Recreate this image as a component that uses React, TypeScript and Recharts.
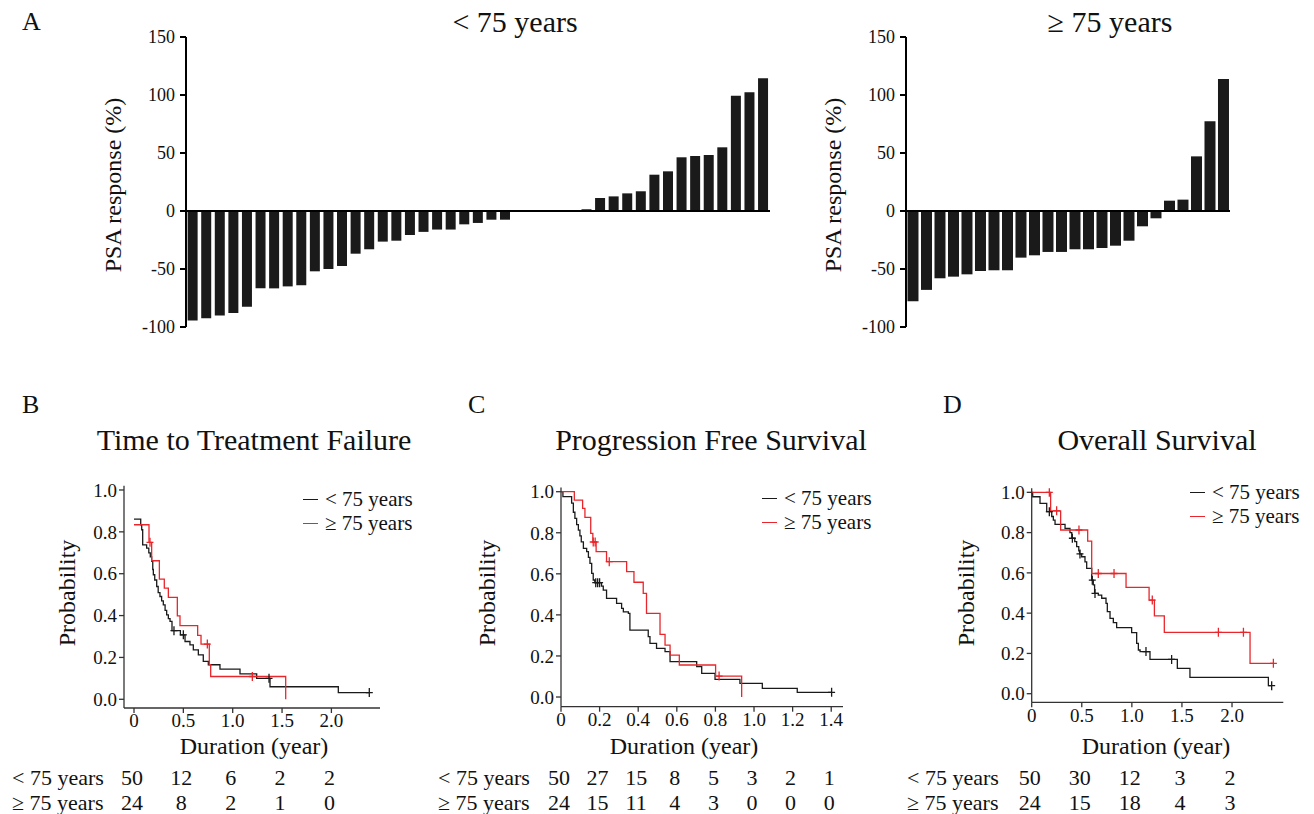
import React from 'react';
import { BarChart, Bar, ComposedChart, Line, XAxis, YAxis, ReferenceLine } from 'recharts';

const FONT = '"Liberation Serif", "Times New Roman", Times, serif';
const BLACK = '#1a1a1a';
const RED = '#e8262b';

// A: PSA response (%) per patient, sorted
const psaUnder75 = [
  -94.5, -92.5, -90, -88, -82.5, -66.7, -66.7, -65, -64, -52, -50, -47.4, -36.8, -33, -26.4,
  -25.6, -20.7, -18, -16, -16, -11.5, -10.3, -7.5, -7.5, 0, 0, 0, 0, 0, 1.5, 11.2, 12.6, 15.2,
  17, 31.3, 34.2, 46.3, 47.4, 48.3, 54.9, 99.4, 102.3, 114.4,
];
const psaOver75 = [
  -77.9, -68, -58, -56.6, -54.6, -51.7, -51.1, -51.1, -40.2, -38.2, -35.3, -35.3, -33, -33,
  -31.9, -29.9, -25.6, -13.2, -6.3, 8.9, 9.8, 47.1, 77.3, 113.8,
];
const psaTicks = [-100, -50, 0, 50, 100, 150];

// B: time to treatment failure, [year, probability after step]
const ttfUnder75 = [
  [0, 0.861], [0.068, 0.834], [0.078, 0.81], [0.088, 0.738], [0.128, 0.722], [0.15, 0.7],
  [0.165, 0.68], [0.179, 0.659], [0.19, 0.62], [0.196, 0.595], [0.21, 0.57], [0.23, 0.539],
  [0.245, 0.51], [0.263, 0.491], [0.28, 0.47], [0.297, 0.451], [0.315, 0.425], [0.331, 0.403],
  [0.348, 0.385], [0.365, 0.372], [0.385, 0.328], [0.47, 0.308], [0.517, 0.276], [0.567, 0.26],
  [0.601, 0.236], [0.652, 0.212], [0.702, 0.181], [0.753, 0.165], [0.871, 0.144], [1.074, 0.121],
  [1.243, 0.1], [1.378, 0.06], [2.07, 0.032], [2.384, 0.032],
];
const ttfUnder75Censored = [0.405, 0.5, 1.368, 2.384];
const ttfOver75 = [
  [0, 0.834], [0.152, 0.75], [0.179, 0.662], [0.257, 0.574], [0.307, 0.531], [0.348, 0.487],
  [0.439, 0.399], [0.466, 0.352], [0.645, 0.305], [0.679, 0.264], [0.763, 0.165], [0.777, 0.109],
  [1.537, 0],
];
const ttfOver75Censored = [0.162, 0.743, 1.199];

// C: progression free survival
const pfsUnder75 = [
  [0, 1], [0.01, 0.976], [0.055, 0.944], [0.064, 0.9], [0.072, 0.87], [0.081, 0.84], [0.09, 0.813],
  [0.098, 0.785], [0.105, 0.756], [0.116, 0.724], [0.133, 0.708], [0.142, 0.68], [0.15, 0.651],
  [0.159, 0.602], [0.167, 0.57], [0.175, 0.557], [0.21, 0.54], [0.219, 0.521], [0.236, 0.48],
  [0.288, 0.456], [0.314, 0.432], [0.323, 0.415], [0.349, 0.407], [0.357, 0.326], [0.452, 0.294],
  [0.461, 0.261], [0.495, 0.237], [0.539, 0.221], [0.565, 0.172], [0.703, 0.148], [0.729, 0.115],
  [0.798, 0.086], [0.927, 0.066], [1.043, 0.042], [1.224, 0.023], [1.402, 0.023],
];
const pfsUnder75Censored = [0.18, 0.19, 0.2, 1.402];
const pfsOver75 = [
  [0, 1], [0.069, 0.959], [0.112, 0.919], [0.124, 0.875], [0.154, 0.797], [0.165, 0.755],
  [0.182, 0.708], [0.236, 0.659], [0.34, 0.611], [0.378, 0.559], [0.426, 0.505], [0.443, 0.407],
  [0.513, 0.305], [0.539, 0.253], [0.565, 0.204], [0.613, 0.156], [0.801, 0.102], [0.936, 0],
];
const pfsOver75Censored = [0.167, 0.177, 0.25, 0.819];

// D: overall survival
const osUnder75 = [
  [0, 1], [0.01, 0.978], [0.083, 0.945], [0.15, 0.904], [0.2, 0.88], [0.216, 0.862], [0.233, 0.841],
  [0.333, 0.821], [0.382, 0.8], [0.4, 0.772], [0.43, 0.755], [0.449, 0.73], [0.47, 0.71],
  [0.478, 0.694], [0.499, 0.68], [0.532, 0.655], [0.549, 0.622], [0.599, 0.564], [0.615, 0.54],
  [0.628, 0.498], [0.665, 0.49], [0.699, 0.474], [0.742, 0.449], [0.755, 0.408], [0.782, 0.374],
  [0.815, 0.353], [0.848, 0.328], [0.998, 0.303], [1.048, 0.25], [1.065, 0.217], [1.082, 0.209],
  [1.181, 0.17], [1.454, 0.126], [1.58, 0.081], [2.363, 0.04], [2.396, 0.04],
];
const osUnder75Censored = [0.176, 0.406, 0.482, 0.605, 0.632, 1.141, 1.397, 2.396];
const osOver75 = [
  [0, 1], [0.189, 0.908], [0.289, 0.813], [0.559, 0.758], [0.599, 0.597], [0.942, 0.528],
  [1.172, 0.465], [1.225, 0.386], [1.324, 0.305], [2.18, 0.151], [2.413, 0.151],
];
const osOver75Censored = [0.176, 0.249, 0.472, 0.665, 0.822, 1.204, 1.864, 2.114, 2.413];

const groupLabels = ['< 75 years', '≥ 75 years'];
const probTicks = [0, 0.2, 0.4, 0.6, 0.8, 1.0];
const yearTicksHalf = [0, 0.5, 1, 1.5, 2];
const yearTicksFifth = [0, 0.2, 0.4, 0.6, 0.8, 1.0, 1.2, 1.4];

// number at risk
const riskTtfUnder = [50, 12, 6, 2, 2];
const riskTtfOver = [24, 8, 2, 1, 0];
const riskPfsUnder = [50, 27, 15, 8, 5, 3, 2, 1];
const riskPfsOver = [24, 15, 11, 4, 3, 0, 0, 0];
const riskOsUnder = [50, 30, 12, 3, 2];
const riskOsOver = [24, 15, 18, 4, 3];

function withCensor(steps: number[][], censored: number[]) {
  const pts = steps.map(([t, p]) => ({ t, p, c: false }));
  censored.forEach((tc) => {
    let p = steps[0][1];
    for (const [t, v] of steps) if (t <= tc) p = v;
    pts.push({ t: tc, p, c: true });
  });
  return pts.sort((a, b) => a.t - b.t);
}

const Txt = ({ x, y, size, children, anchor = 'start', rotate = false }: any) => {
  const tx = anchor === 'middle' ? '-50%' : anchor === 'end' ? '-100%' : '0';
  const transform = rotate ? 'translate(-50%,-50%) rotate(-90deg)' : `translate(${tx},-50%)`;
  return (
    <div
      style={{
        position: 'absolute', left: x, top: y, fontSize: size, lineHeight: 1,
        whiteSpace: 'nowrap', transform, fontFamily: FONT, color: '#111',
      }}
    >
      {children}
    </div>
  );
};

function Waterfall({ values, left, width, gap }: any) {
  const data = values.map((v: number, i: number) => ({ i, v }));
  return (
    <div style={{ position: 'absolute', left, top: 0 }}>
      <BarChart width={width} height={345} data={data} margin={{ top: 37, right: 10, bottom: 18, left: 0 }} barCategoryGap={gap}>
        <XAxis dataKey="i" hide />
        <YAxis
          width={186}
          domain={[-100, 150]}
          ticks={psaTicks}
          interval={0}
          allowDataOverflow
          axisLine={{ stroke: '#000', strokeWidth: 2 }}
          tickLine={{ stroke: '#000', strokeWidth: 2 }}
          tickSize={6}
          tickMargin={5}
          tick={{ fill: '#111', fontSize: 18, fontFamily: FONT }}
        />
        <Bar dataKey="v" fill={BLACK} isAnimationActive={false} />
        <ReferenceLine y={0} stroke="#000" strokeWidth={2} />
      </BarChart>
    </div>
  );
}

const censorDot = (color: string) => (props: any) => {
  const { cx, cy, payload, index } = props;
  if (!payload || !payload.c) return <g key={`n${index}`} />;
  return <path key={`c${index}`} d={`M${cx - 3.5},${cy}h7M${cx},${cy - 4.5}v9`} stroke={color} strokeWidth={1.3} fill="none" />;
};

function KM({ wrapLeft, plotLeft, plotRight, plotTop, plotBottom, xDomain, xTicks, yDomain, under, over, risk, legend, fmtX }: any) {
  const top = 470;
  const height = 280;
  const width = plotRight - wrapLeft + 20;
  const pxPerYear = (plotRight - plotLeft) / (xDomain[1] - xDomain[0]);
  const xAt = (t: number) => plotLeft + (t - xDomain[0]) * pxPerYear;
  return (
    <>
      <div style={{ position: 'absolute', left: wrapLeft, top }}>
        <ComposedChart
          width={width}
          height={height}
          margin={{ top: plotTop - top, right: 20, bottom: height - (plotBottom - top) - 40, left: 0 }}
        >
          <XAxis
            type="number"
            dataKey="t"
            domain={xDomain}
            ticks={xTicks}
            interval={0}
            allowDataOverflow
            height={40}
            tickFormatter={fmtX}
            axisLine={{ stroke: '#333', strokeWidth: 1.3 }}
            tickLine={{ stroke: '#333', strokeWidth: 1.3 }}
            tickSize={5}
            tickMargin={1}
            tick={{ fill: '#111', fontSize: 19, fontFamily: FONT }}
          />
          <YAxis
            type="number"
            width={plotLeft - wrapLeft}
            domain={yDomain}
            ticks={probTicks}
            interval={0}
            allowDataOverflow
            tickFormatter={(v: number) => v.toFixed(1)}
            axisLine={{ stroke: '#333', strokeWidth: 1.3 }}
            tickLine={{ stroke: '#333', strokeWidth: 1.3 }}
            tickSize={5}
            tickMargin={2}
            tick={{ fill: '#111', fontSize: 19, fontFamily: FONT }}
          />
          <Line data={withCensor(under.steps, under.censored)} type="stepAfter" dataKey="p" stroke={BLACK} strokeWidth={1.3} dot={censorDot(BLACK)} activeDot={false} isAnimationActive={false} />
          <Line data={withCensor(over.steps, over.censored)} type="stepAfter" dataKey="p" stroke={RED} strokeWidth={1.3} dot={censorDot(RED)} activeDot={false} isAnimationActive={false} />
        </ComposedChart>
      </div>
      {[BLACK, RED].map((c, i) => (
        <React.Fragment key={c}>
          <div style={{ position: 'absolute', left: legend.x, top: legend.y + i * 24, width: 15, height: 1.4, background: c }} />
          <Txt x={legend.x + 22} y={legend.y + i * 24} size={21}>{groupLabels[i]}</Txt>
        </React.Fragment>
      ))}
      {[risk.under, risk.over].map((row: number[], r: number) => (
        <React.Fragment key={r}>
          <Txt x={risk.labelX} y={778 + r * 25} size={22}>{groupLabels[r]}</Txt>
          {row.map((n, k) => (
            <Txt key={k} x={xAt(xTicks[k]) - 2} y={778 + r * 25} size={22} anchor="middle">{n}</Txt>
          ))}
        </React.Fragment>
      ))}
    </>
  );
}

const fmtYear = (v: number) => (v === 0 ? '0' : v.toFixed(1));

export default function App() {
  return (
    <div style={{ position: 'absolute', left: 0, top: 0, width: 1314, height: 814, background: '#fff', fontFamily: FONT, overflow: 'hidden' }}>
      <Waterfall values={psaUnder75} left={0} width={780} gap="12%" />
      <Waterfall values={psaOver75} left={720} width={520} gap="11%" />
      <Txt x={22} y={22} size={26}>A</Txt>
      <Txt x={515} y={22} size={30} anchor="middle">{'< 75 years'}</Txt>
      <Txt x={1110} y={22} size={30} anchor="middle">{'≥ 75 years'}</Txt>
      <Txt x={113} y={185} size={24} rotate>PSA response (%)</Txt>
      <Txt x={833} y={185} size={24} rotate>PSA response (%)</Txt>

      <Txt x={22} y={405} size={26}>B</Txt>
      <Txt x={468} y={405} size={26}>C</Txt>
      <Txt x={943} y={405} size={26}>D</Txt>
      <Txt x={254} y={440} size={30} anchor="middle">Time to Treatment Failure</Txt>
      <Txt x={711} y={440} size={30} anchor="middle">Progression Free Survival</Txt>
      <Txt x={1157} y={440} size={30} anchor="middle">Overall Survival</Txt>
      <Txt x={67} y={593} size={24} rotate>Probability</Txt>
      <Txt x={487} y={593} size={24} rotate>Probability</Txt>
      <Txt x={966} y={593} size={24} rotate>Probability</Txt>
      <Txt x={254} y={746} size={24} anchor="middle">Duration (year)</Txt>
      <Txt x={684} y={746} size={24} anchor="middle">Duration (year)</Txt>
      <Txt x={1156} y={746} size={24} anchor="middle">Duration (year)</Txt>

      <KM
        wrapLeft={0} plotLeft={124} plotRight={380} plotTop={485.8} plotBottom={708}
        xDomain={[-0.1013, 2.4924]} xTicks={yearTicksHalf} yDomain={[-0.0416, 1.02]} fmtX={fmtYear}
        under={{ steps: ttfUnder75, censored: ttfUnder75Censored }}
        over={{ steps: ttfOver75, censored: ttfOver75Censored }}
        legend={{ x: 303, y: 499 }}
        risk={{ labelX: 12, under: riskTtfUnder, over: riskTtfOver }}
      />
      <KM
        wrapLeft={430} plotLeft={561} plotRight={843} plotTop={487.6} plotBottom={706.7}
        xDomain={[0, 1.461]} xTicks={yearTicksFifth} yDomain={[-0.0472, 1.02]} fmtX={fmtYear}
        under={{ steps: pfsUnder75, censored: pfsUnder75Censored }}
        over={{ steps: pfsOver75, censored: pfsOver75Censored }}
        legend={{ x: 762, y: 498 }}
        risk={{ labelX: 438, under: riskPfsUnder, over: riskPfsOver }}
      />
      <KM
        wrapLeft={900} plotLeft={1031.7} plotRight={1283.3} plotTop={488.3} plotBottom={702.3}
        xDomain={[0, 2.512]} xTicks={yearTicksHalf} yDomain={[-0.0427, 1.02]} fmtX={fmtYear}
        under={{ steps: osUnder75, censored: osUnder75Censored }}
        over={{ steps: osOver75, censored: osOver75Censored }}
        legend={{ x: 1190, y: 492 }}
        risk={{ labelX: 907, under: riskOsUnder, over: riskOsOver }}
      />
    </div>
  );
}
